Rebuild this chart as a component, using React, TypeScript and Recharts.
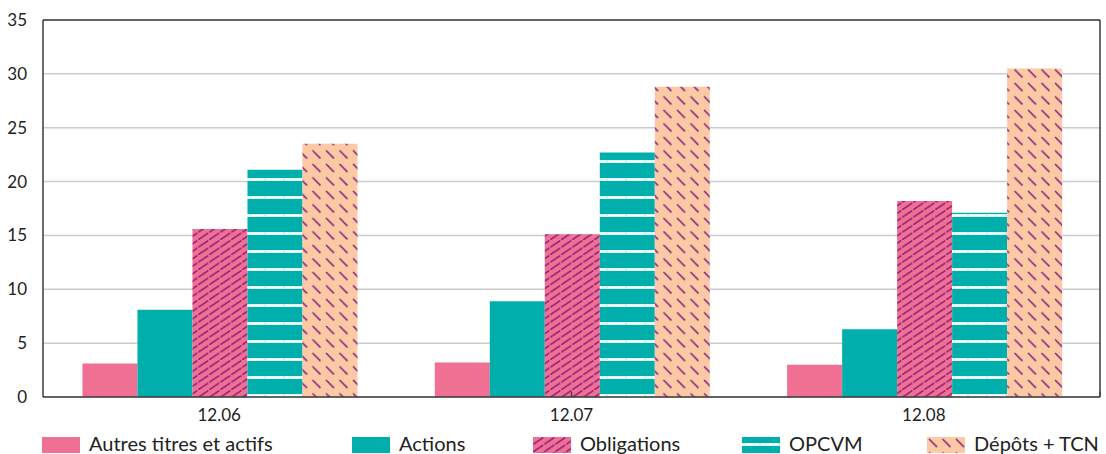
import { BarChart, Bar, XAxis, YAxis, CartesianGrid, ReferenceLine } from 'recharts';

const categories = ['12.06', '12.07', '12.08'];
const autres = [3.1, 3.2, 3.0];
const actions = [8.1, 8.9, 6.3];
const obligations = [15.6, 15.1, 18.2];
const opcvm = [21.1, 22.7, 17.1];
const depots = [23.5, 28.8, 30.5];
const yTicks = [0, 5, 10, 15, 20, 25, 30, 35];

const series = [
  { key: 'autres', name: 'Autres titres et actifs', pat: '' , color: '#ef7092' },
  { key: 'actions', name: 'Actions', pat: '', color: '#00afab' },
  { key: 'obligations', name: 'Obligations', pat: 'Oblig', color: '#ef7092' },
  { key: 'opcvm', name: 'OPCVM', pat: 'Opcvm', color: '#00afab' },
  { key: 'depots', name: 'Dépôts + TCN', pat: 'Depots', color: '#fbcaa5' },
];

const data = categories.map((c, i) => ({
  cat: c,
  autres: autres[i],
  actions: actions[i],
  obligations: obligations[i],
  opcvm: opcvm[i],
  depots: depots[i],
}));

const FONT = 'Lato, "Open Sans", sans-serif';
const AXIS = '#3a3a3a';
const PURPLE = '#8a1c7c';

const fillOf = (s: (typeof series)[number], prefix: string) =>
  s.pat ? `url(#${prefix}${s.pat})` : s.color;

// motifs de hachures (préfixe différent pour le graphique et la légende)
const Patterns = ({ prefix, oy }: { prefix: string; oy: number }) => (
  <defs>
    <pattern id={`${prefix}Oblig`} width="11" height="7.5" patternUnits="userSpaceOnUse">
      <rect width="11" height="7.5" fill="#ef7092" />
      <line x1="0.3" y1="7.3" x2="10.3" y2="0.5" stroke={PURPLE} strokeWidth="1.4" />
    </pattern>
    <pattern id={`${prefix}Opcvm`} width="19" height="18" y={oy} patternUnits="userSpaceOnUse">
      <rect width="19" height="18" fill="#00afab" />
      <rect y="15" width="19" height="3" fill="#bfeeed" />
      <rect y="15.5" width="19" height="2" fill="#ffffff" />
      <rect x="17" y="15.5" width="2" height="2" fill="#bfeeed" />
    </pattern>
    <pattern id={`${prefix}Depots`} width="13.5" height="13.5" patternUnits="userSpaceOnUse">
      <rect width="13.5" height="13.5" fill="#fbcaa5" />
      <line x1="2" y1="2" x2="10" y2="10" stroke={PURPLE} strokeWidth="1.5" />
    </pattern>
  </defs>
);

const legendLeft = [42, 352, 533, 742, 927];

const Legend5 = () => (
  <div style={{ position: 'absolute', left: 0, top: 433, width: 1106, height: 21 }}>
    <svg width={0} height={0} style={{ position: 'absolute' }}>
      <Patterns prefix="lg" oy={-9} />
    </svg>
    {series.map((s, i) => (
      <div
        key={s.key}
        style={{ position: 'absolute', left: legendLeft[i], top: 0, display: 'flex', alignItems: 'flex-start' }}
      >
        <svg width={38} height={16} style={{ display: 'block', marginTop: 4 }}>
          <rect width={38} height={16} fill={fillOf(s, 'lg')} />
        </svg>
        <span
          style={{
            marginLeft: 9,
            fontSize: 20,
            color: '#222',
            lineHeight: '20px',
            whiteSpace: 'nowrap',
          }}
        >
          {s.name}
        </span>
      </div>
    ))}
  </div>
);

export default function App() {
  return (
    <div style={{ width: 1106, height: 454, position: 'relative', overflow: 'hidden', fontFamily: FONT }}>
      <style>{`body{margin:0}`}</style>
      <BarChart
        width={1106}
        height={427}
        data={data}
        margin={{ top: 20, right: 5, left: 0, bottom: 0 }}
        barCategoryGap="11.2%"
        barGap={0}
      >
        <Patterns prefix="ch" oy={397} />
        <CartesianGrid vertical={false} stroke="#cccccc" strokeWidth={1.5} />
        <XAxis
          dataKey="cat"
          height={30}
          tickLine={false}
          tickMargin={6}
          axisLine={{ stroke: AXIS, strokeWidth: 1.5 }}
          tick={{ fill: '#222', fontSize: 17, fontFamily: FONT }}
        />
        <XAxis xAxisId="n" type="number" domain={[0, 3]} hide />
        <YAxis
          domain={[0, 35]}
          ticks={yTicks}
          width={43}
          tickLine={false}
          tickMargin={10}
          axisLine={{ stroke: AXIS, strokeWidth: 1.5 }}
          tick={{ fill: '#222', fontSize: 17, fontFamily: FONT }}
          interval={0}
        />
        <YAxis
          yAxisId="r"
          orientation="right"
          width={1}
          tick={false}
          tickLine={false}
          axisLine={{ stroke: AXIS, strokeWidth: 1.5 }}
        />
        <ReferenceLine y={35} stroke={AXIS} strokeWidth={1.5} />
        <ReferenceLine xAxisId="n" segment={[{ x: 1, y: 0 }, { x: 1, y: 0.5 }]} stroke={AXIS} strokeWidth={1.2} />
        <ReferenceLine xAxisId="n" segment={[{ x: 2, y: 0 }, { x: 2, y: 0.5 }]} stroke={AXIS} strokeWidth={1.2} />
        {series.map((s) => (
          <Bar key={s.key} dataKey={s.key} name={s.name} fill={fillOf(s, 'ch')} isAnimationActive={false} />
        ))}
      </BarChart>
      <Legend5 />
    </div>
  );
}
